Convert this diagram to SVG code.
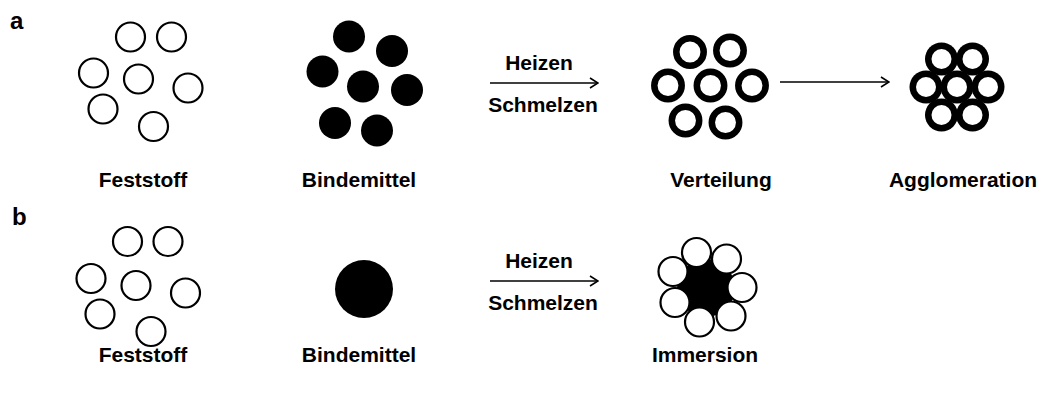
<svg xmlns="http://www.w3.org/2000/svg" width="1043" height="398" viewBox="0 0 1043 398">
<style>
text{font-family:"Liberation Sans",Arial,sans-serif;font-weight:bold;fill:#000}
.lbl{font-size:21px;text-anchor:middle}
.pl{font-size:21px;text-anchor:middle}
.tag{font-size:24px}
.o{fill:#fff;stroke:#000;stroke-width:2.2}
.f{fill:#000}
.ring{fill:#fff;stroke:#000;stroke-width:6.5}
.w{fill:#fff}
.ln{stroke:#000;stroke-width:1.6;fill:none}
</style>
<defs>
<marker id="ah" viewBox="0 0 10 12" refX="9" refY="6" markerWidth="10" markerHeight="12" markerUnits="userSpaceOnUse" orient="auto">
<path d="M1,1 L9,6 L1,11" fill="none" stroke="#000" stroke-width="1.6"/>
</marker>
</defs>
<rect width="1043" height="398" fill="#fff"/>
<text class="tag" x="10" y="29">a</text>
<text class="tag" x="12" y="225">b</text>

<g id="a-feststoff">
<circle class="o" cx="130.5" cy="37" r="14.5"/>
<circle class="o" cx="171.5" cy="37" r="14.5"/>
<circle class="o" cx="93.5" cy="73" r="14.5"/>
<circle class="o" cx="138.5" cy="79" r="14.5"/>
<circle class="o" cx="188" cy="88" r="14.5"/>
<circle class="o" cx="103" cy="109" r="14.5"/>
<circle class="o" cx="153.5" cy="126.5" r="14.5"/>
<text class="lbl" x="143" y="187">Feststoff</text>
</g>

<g id="a-bindemittel">
<circle class="f" cx="349" cy="36.5" r="16"/>
<circle class="f" cx="392" cy="51" r="16"/>
<circle class="f" cx="322.5" cy="71.5" r="16"/>
<circle class="f" cx="363" cy="86.5" r="16"/>
<circle class="f" cx="407" cy="90" r="16"/>
<circle class="f" cx="335" cy="123" r="16"/>
<circle class="f" cx="377" cy="130.5" r="16"/>
<text class="lbl" x="359" y="187">Bindemittel</text>
</g>

<g id="a-verteilung">
<circle class="ring" cx="690" cy="52" r="13.7"/>
<circle class="ring" cx="730" cy="50.5" r="13.7"/>
<circle class="ring" cx="668" cy="85.5" r="13.7"/>
<circle class="ring" cx="710.5" cy="85.5" r="13.7"/>
<circle class="ring" cx="752" cy="85.5" r="13.7"/>
<circle class="ring" cx="685.5" cy="120.5" r="13.7"/>
<circle class="ring" cx="725.5" cy="122.5" r="13.7"/>
<text class="lbl" x="721" y="187">Verteilung</text>
</g>

<g id="a-agglomeration">
<circle class="f" cx="941.5" cy="59" r="16.5"/>
<circle class="f" cx="972.5" cy="59" r="16.5"/>
<circle class="f" cx="926" cy="87" r="16.5"/>
<circle class="f" cx="957" cy="87" r="16.5"/>
<circle class="f" cx="988" cy="87" r="16.5"/>
<circle class="f" cx="941.5" cy="115" r="16.5"/>
<circle class="f" cx="972.5" cy="115" r="16.5"/>
<circle class="w" cx="941.5" cy="59" r="10"/>
<circle class="w" cx="972.5" cy="59" r="10"/>
<circle class="w" cx="926" cy="87" r="10"/>
<circle class="w" cx="957" cy="87" r="10"/>
<circle class="w" cx="988" cy="87" r="10"/>
<circle class="w" cx="941.5" cy="115" r="10"/>
<circle class="w" cx="972.5" cy="115" r="10"/>
<text class="lbl" x="963" y="187">Agglomeration</text>
</g>

<g id="b-feststoff">
<circle class="o" cx="127.5" cy="241.5" r="14.5"/>
<circle class="o" cx="168" cy="241.5" r="14.5"/>
<circle class="o" cx="91" cy="278.5" r="14.5"/>
<circle class="o" cx="136" cy="285.5" r="14.5"/>
<circle class="o" cx="185.5" cy="293" r="14.5"/>
<circle class="o" cx="100" cy="314" r="14.5"/>
<circle class="o" cx="151" cy="331.5" r="14.5"/>
<text class="lbl" x="143" y="362">Feststoff</text>
</g>

<g id="b-bindemittel">
<circle class="f" cx="364" cy="289" r="29"/>
<text class="lbl" x="359" y="362">Bindemittel</text>
</g>

<g id="b-immersion">
<circle class="f" cx="706" cy="288" r="29"/>
<circle class="o" cx="696.5" cy="252.5" r="14.5"/>
<circle class="o" cx="726.5" cy="259" r="14.5"/>
<circle class="o" cx="673" cy="271.5" r="14.5"/>
<circle class="o" cx="742" cy="287.5" r="14.5"/>
<circle class="o" cx="675" cy="302.5" r="14.5"/>
<circle class="o" cx="699.5" cy="322" r="14.5"/>
<circle class="o" cx="731" cy="316" r="14.5"/>
<text class="lbl" x="705" y="362">Immersion</text>
</g>

<g id="connectors">
<line class="ln" x1="490" y1="83" x2="598" y2="83" marker-end="url(#ah)"/>
<text class="pl" x="539" y="70">Heizen</text>
<text class="pl" x="543" y="112">Schmelzen</text>
<line class="ln" x1="780" y1="82" x2="889" y2="82" marker-end="url(#ah)"/>
<line class="ln" x1="490" y1="281" x2="598" y2="281" marker-end="url(#ah)"/>
<text class="pl" x="539" y="268">Heizen</text>
<text class="pl" x="543" y="310">Schmelzen</text>
</g>
</svg>
